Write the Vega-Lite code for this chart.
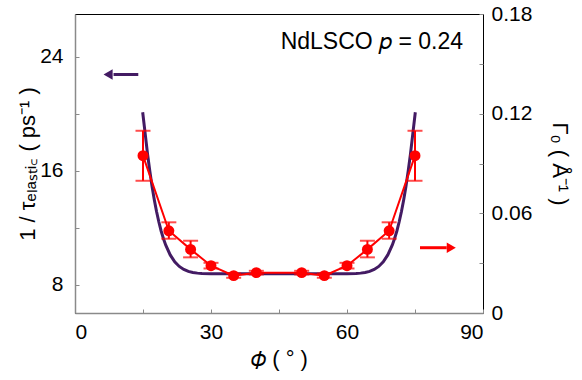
{
  "$schema": "https://vega.github.io/schema/vega-lite/v6.json",
  "width": 408,
  "height": 299,
  "autosize": {"type": "none"},
  "padding": {"left": 75, "top": 14, "right": 99, "bottom": 67},
  "background": "white",
  "config": {
    "view": {"stroke": "black", "strokeWidth": 1},
    "font": "Liberation Sans",
    "axis": {
      "grid": false,
      "domainColor": "#8a8a8a",
      "domainWidth": 1.5,
      "tickColor": "#8a8a8a",
      "tickWidth": 1,
      "tickSize": -4,
      "labelFont": "Liberation Sans",
      "labelFontSize": 21,
      "labelColor": "black",
      "titleFont": "Liberation Sans",
      "titleFontSize": 20,
      "titleFontWeight": "normal",
      "titleColor": "black"
    }
  },
  "datasets": {
    "fit": [
      {"phi": 14.93, "tau": 20.1},
      {"phi": 15.5, "tau": 18.55},
      {"phi": 16, "tau": 17.17},
      {"phi": 16.5, "tau": 15.97},
      {"phi": 17, "tau": 14.88},
      {"phi": 17.5, "tau": 13.94},
      {"phi": 18, "tau": 13.11},
      {"phi": 18.5, "tau": 12.39},
      {"phi": 19, "tau": 11.76},
      {"phi": 19.5, "tau": 11.23},
      {"phi": 20, "tau": 10.78},
      {"phi": 21, "tau": 10.08},
      {"phi": 22, "tau": 9.59},
      {"phi": 23, "tau": 9.27},
      {"phi": 24, "tau": 9.06},
      {"phi": 25, "tau": 8.92},
      {"phi": 26, "tau": 8.85},
      {"phi": 27, "tau": 8.8},
      {"phi": 28, "tau": 8.775},
      {"phi": 30, "tau": 8.76},
      {"phi": 35, "tau": 8.75},
      {"phi": 45, "tau": 8.75},
      {"phi": 55, "tau": 8.75},
      {"phi": 60, "tau": 8.76},
      {"phi": 62, "tau": 8.775},
      {"phi": 63, "tau": 8.8},
      {"phi": 64, "tau": 8.85},
      {"phi": 65, "tau": 8.92},
      {"phi": 66, "tau": 9.06},
      {"phi": 67, "tau": 9.27},
      {"phi": 68, "tau": 9.59},
      {"phi": 69, "tau": 10.08},
      {"phi": 70, "tau": 10.78},
      {"phi": 70.5, "tau": 11.23},
      {"phi": 71, "tau": 11.76},
      {"phi": 71.5, "tau": 12.39},
      {"phi": 72, "tau": 13.11},
      {"phi": 72.5, "tau": 13.94},
      {"phi": 73, "tau": 14.88},
      {"phi": 73.5, "tau": 15.97},
      {"phi": 74, "tau": 17.17},
      {"phi": 74.5, "tau": 18.55},
      {"phi": 75.07, "tau": 20.1}
    ],
    "pts": [
      {"phi": 15, "gamma": 0.0947, "lo": 0.0796, "hi": 0.1097},
      {"phi": 20.7, "gamma": 0.0495, "lo": 0.0447, "hi": 0.0546},
      {"phi": 25.5, "gamma": 0.0383, "lo": 0.0335, "hi": 0.0435},
      {"phi": 30, "gamma": 0.0285, "lo": 0.0268, "hi": 0.0302},
      {"phi": 35, "gamma": 0.0225, "lo": 0.0212, "hi": 0.0238},
      {"phi": 40, "gamma": 0.0243, "lo": 0.0232, "hi": 0.0254},
      {"phi": 50, "gamma": 0.0243, "lo": 0.0232, "hi": 0.0254},
      {"phi": 55, "gamma": 0.0225, "lo": 0.0212, "hi": 0.0238},
      {"phi": 60, "gamma": 0.0285, "lo": 0.0268, "hi": 0.0302},
      {"phi": 64.5, "gamma": 0.0383, "lo": 0.0335, "hi": 0.0435},
      {"phi": 69.3, "gamma": 0.0495, "lo": 0.0447, "hi": 0.0546},
      {"phi": 75, "gamma": 0.0947, "lo": 0.0796, "hi": 0.1097}
    ]
  },
  "layer": [
    {
      "layer": [
        {
          "data": {"name": "fit"},
          "mark": {"type": "line", "color": "#431b63", "strokeWidth": 3, "clip": true},
          "encoding": {
            "x": {
              "field": "phi", "type": "quantitative",
              "scale": {"domain": [0, 90], "nice": false},
              "axis": {
                "values": [0, 15, 30, 45, 60, 75, 90],
                "labelExpr": "datum.value % 30 == 0 ? datum.label : ''",
                "labelPadding": 12,
                "title": "𝜙 ( ° )",
                "titleFontSize": 22,
                "titlePadding": 6
              }
            },
            "y": {
              "field": "tau", "type": "quantitative",
              "scale": {"domain": [6, 27], "nice": false, "zero": false},
              "axis": {
                "orient": "left",
                "values": [8, 12, 16, 20, 24],
                "labelExpr": "datum.value % 8 == 0 ? datum.label : ''",
                "labelPadding": 16,
                "title": "1 / τₑₗₐₛₜᵢ꜀ ( ps⁻¹ )",
                "titleFontSize": 22,
                "titlePadding": 0
              }
            }
          }
        },
        {
          "data": {"values": [{}]},
          "mark": {"type": "rule", "color": "#431b63", "strokeWidth": 3},
          "encoding": {"x": {"datum": 8.5}, "x2": {"datum": 13.96}, "y": {"datum": 22.75}}
        },
        {
          "data": {"values": [{}]},
          "mark": {"type": "point", "shape": "triangle-left", "filled": true, "opacity": 1, "color": "#431b63", "size": 110},
          "encoding": {"x": {"datum": 7.3}, "y": {"datum": 22.75}}
        },
        {
          "data": {"values": [{}]},
          "mark": {"type": "text", "text": "NdLSCO 𝑝 = 0.24", "align": "right", "baseline": "alphabetic", "fontSize": 23, "color": "black", "font": "Liberation Sans"},
          "encoding": {"x": {"datum": 85.6}, "y": {"datum": 24.55}}
        }
      ]
    },
    {
      "layer": [
        {
          "data": {"name": "pts"},
          "mark": {"type": "line", "color": "#ff0000", "strokeWidth": 2},
          "encoding": {
            "x": {"field": "phi", "type": "quantitative"},
            "y": {
              "field": "gamma", "type": "quantitative",
              "title": "Γ₀ ( Å⁻¹ )",
              "scale": {"domain": [0, 0.18], "nice": false},
              "axis": {
                "orient": "right",
                "values": [0, 0.03, 0.06, 0.09, 0.12, 0.15, 0.18],
                "labelExpr": "round(datum.value * 100) % 6 == 0 ? (datum.value == 0 ? '0' : format(datum.value, '.2f')) : ''",
                "labelPadding": 12,
                "domain": false,
                "title": "Γ₀ ( Å⁻¹ )",
                "titleFontSize": 22,
                "titlePadding": 16
              }
            }
          }
        },
        {
          "data": {"name": "pts"},
          "mark": {"type": "errorbar", "color": "#ff0000", "thickness": 2, "ticks": {"size": 15, "thickness": 2, "color": "#ff0000"}},
          "encoding": {
            "x": {"field": "phi", "type": "quantitative"},
            "y": {"field": "lo", "type": "quantitative", "title": "Γ₀ ( Å⁻¹ )"},
            "y2": {"field": "hi"}
          }
        },
        {
          "data": {"name": "pts"},
          "mark": {"type": "circle", "color": "#ff0000", "opacity": 1, "size": 120},
          "encoding": {
            "x": {"field": "phi", "type": "quantitative"},
            "y": {"field": "gamma", "type": "quantitative", "title": "Γ₀ ( Å⁻¹ )"}
          }
        },
        {
          "data": {"values": [{}]},
          "mark": {"type": "rule", "color": "#ff0000", "strokeWidth": 3, "clip": false},
          "encoding": {"x": {"datum": 76.1}, "x2": {"datum": 82.0}, "y": {"datum": 0.0393}}
        },
        {
          "data": {"values": [{}]},
          "mark": {"type": "point", "shape": "triangle-right", "filled": true, "opacity": 1, "color": "#ff0000", "size": 110},
          "encoding": {"x": {"datum": 83.0}, "y": {"datum": 0.0393}}
        }
      ]
    }
  ],
  "resolve": {"scale": {"y": "independent"}, "axis": {"y": "independent"}}
}
